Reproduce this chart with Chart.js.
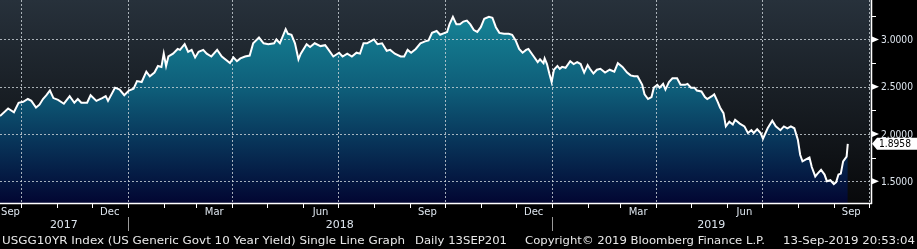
<!DOCTYPE html>
<html>
<head>
<meta charset="utf-8">
<script src="https://cdn.jsdelivr.net/npm/chart.js@4.4.0/dist/chart.umd.min.js"></script>
<style>
  html, body { margin: 0; padding: 0; background: #000; }
  #graphCanvas { display: block; }
</style>
</head>
<body>
<canvas id="graphCanvas" width="917" height="249"></canvas>
<script>
// days since 13-Sep-2017
const dayOffsets = [
    0, 7, 12, 16, 20, 24, 27, 31, 34, 37,
    40, 43, 46, 50, 55, 60, 64, 67, 70, 75,
    78, 83, 88, 91, 93, 99, 103, 107, 111, 115,
    118, 122, 126, 129, 133, 136, 139, 141, 143, 145,
    149, 153, 155, 159, 162, 165, 168, 171, 175, 178,
    182, 187, 191, 198, 201, 204, 207, 211, 215, 218,
    223, 227, 231, 236, 238, 241, 246, 248, 251, 254,
    257, 259, 264, 267, 271, 276, 280, 283, 287, 292,
    295, 299, 303, 307, 310, 313, 316, 319, 322, 325,
    329, 333, 336, 340, 345, 348, 351, 354, 358, 362,
    366, 369, 372, 376, 379, 383, 385, 387, 390, 393,
    396, 399, 402, 405, 408, 411, 414, 417, 421, 424,
    427, 430, 434, 438, 441, 444, 447, 450, 453, 455,
    459, 463, 465, 468, 469, 471, 473, 475, 477, 480,
    482, 484, 487, 491, 494, 497, 500, 503, 506, 508,
    511, 514, 517, 521, 525, 529, 532, 536, 540, 543,
    546, 549, 553, 555, 558, 561, 563, 566, 568, 571,
    573, 576, 579, 583, 586, 590, 592, 595, 598, 600,
    604, 607, 609, 613, 615, 618, 620, 623, 625, 628,
    631, 633, 637, 641, 644, 647, 649, 652, 655, 657,
    661, 665, 668, 672, 675, 678, 681, 684, 687, 688,
    689, 691, 694, 697, 699, 702, 704, 707, 710, 712,
    715, 718, 720, 722, 724, 726, 729, 730
];
const yields = [
    2.19, 2.27, 2.23, 2.33, 2.34, 2.37, 2.35, 2.28, 2.31, 2.37,
    2.41, 2.46, 2.38, 2.36, 2.32, 2.40, 2.33, 2.37, 2.33, 2.33,
    2.41, 2.35, 2.38, 2.40, 2.35, 2.49, 2.47, 2.41, 2.46, 2.48,
    2.56, 2.55, 2.66, 2.61, 2.65, 2.72, 2.71, 2.85, 2.72, 2.82,
    2.85, 2.90, 2.89, 2.95, 2.87, 2.89, 2.81, 2.87, 2.89, 2.85,
    2.82, 2.89, 2.82, 2.75, 2.81, 2.77, 2.80, 2.82, 2.83, 2.96,
    3.02, 2.96, 2.95, 2.96, 3.00, 2.96, 3.11, 3.06, 3.05, 2.96,
    2.79, 2.85, 2.95, 2.92, 2.96, 2.93, 2.94, 2.89, 2.82, 2.86,
    2.82, 2.85, 2.82, 2.86, 2.85, 2.96, 2.96, 2.98, 3.00, 2.95,
    2.96, 2.88, 2.89, 2.85, 2.82, 2.82, 2.89, 2.86, 2.90, 2.96,
    2.98, 2.99, 3.07, 3.09, 3.05, 3.07, 3.08, 3.16, 3.24, 3.16,
    3.16, 3.19, 3.20, 3.16, 3.10, 3.08, 3.13, 3.22, 3.24, 3.23,
    3.13, 3.07, 3.06, 3.06, 3.05, 2.99, 2.90, 2.86, 2.89, 2.90,
    2.83, 2.76, 2.79, 2.75, 2.80, 2.74, 2.64, 2.55, 2.68, 2.72,
    2.69, 2.71, 2.70, 2.77, 2.74, 2.76, 2.74, 2.65, 2.73, 2.69,
    2.64, 2.68, 2.69, 2.65, 2.68, 2.66, 2.75, 2.71, 2.65, 2.62,
    2.61, 2.61, 2.52, 2.42, 2.37, 2.39, 2.49, 2.52, 2.49, 2.53,
    2.47, 2.55, 2.59, 2.59, 2.52, 2.52, 2.53, 2.49, 2.49, 2.46,
    2.45, 2.39, 2.37, 2.40, 2.42, 2.34, 2.28, 2.22, 2.08, 2.13,
    2.10, 2.15, 2.11, 2.08, 2.01, 2.04, 2.01, 2.05, 2.01, 1.95,
    2.06, 2.14, 2.08, 2.04, 2.08, 2.06, 2.08, 2.06, 1.94, 1.86,
    1.78, 1.71, 1.73, 1.75, 1.65, 1.55, 1.58, 1.62, 1.57, 1.50,
    1.51, 1.47, 1.49, 1.57, 1.58, 1.71, 1.76, 1.8958
];
const lastValue = 1.8958;
const yTicks = [1.5, 2.0, 2.5, 3.0];
const yMinorTicks = [1.75, 2.25, 2.75, 3.25];
const monthNames = ['Jan', 'Feb', 'Mar', 'Apr', 'May', 'Jun', 'Jul', 'Aug', 'Sep', 'Oct', 'Nov', 'Dec'];
const labelMonths = [8, 11, 2, 5];          // Sep, Dec, Mar, Jun get a label
const gridMonths = [0, 3, 6, 9];            // quarter starts get a gridline
const years = [2017, 2018, 2019];
const footerParts = [
    { text: 'USGG10YR Index (US Generic Govt 10 Year Yield) Single Line Graph', x: 2, w: 403 },
    { text: 'Daily 13SEP201', x: 415, w: 92 },
    { text: 'Copyright\u00A9 2019 Bloomberg Finance L.P.', x: 525, w: 240 },
    { text: '13-Sep-2019 20:53:04', x: 783, w: 132 }
];

const startUTC = Date.UTC(2017, 8, 13);
const dayOf = (y, m) => (Date.UTC(y, m, 1) - startUTC) / 86400000;
const FONT = '"DejaVu Sans", Verdana, sans-serif';

// text squeezed or stretched to a given width
function fitText(ctx, str, x, y, w) {
    const mw = ctx.measureText(str).width;
    ctx.save();
    ctx.translate(x, y);
    ctx.scale(w / mw, 1);
    ctx.fillText(str, 0, 0);
    ctx.restore();
}

const bbgPlugin = {
    id: 'bbg',
    beforeDraw(chart) {
        const { ctx, chartArea: a } = chart;
        ctx.save();
        ctx.fillStyle = '#000';
        ctx.fillRect(0, 0, chart.width, chart.height);
        const g = ctx.createLinearGradient(0, a.top, 0, a.bottom);
        g.addColorStop(0, '#27313b');
        g.addColorStop(1, '#08090b');
        ctx.fillStyle = g;
        ctx.fillRect(a.left, a.top, a.right - a.left, a.bottom - a.top);
        ctx.restore();
    },
    afterDatasetDraw(chart, args) {
        if (args.index !== 1) return;
        const { ctx, chartArea: a, scales: { x, y } } = chart;
        ctx.save();
        ctx.strokeStyle = 'rgba(205,212,218,0.8)';
        ctx.lineWidth = 1;
        ctx.setLineDash([2, 2]);
        yTicks.forEach(v => {
            const py = Math.round(y.getPixelForValue(v)) + 0.5;
            ctx.beginPath(); ctx.moveTo(a.left, py); ctx.lineTo(a.right, py); ctx.stroke();
        });
        for (let yr = 2017; yr <= 2019; yr++) {
            gridMonths.forEach(m => {
                const d = dayOf(yr, m);
                if (d < x.min || d > x.max) return;
                const px = Math.round(x.getPixelForValue(d)) + 0.5;
                ctx.beginPath(); ctx.moveTo(px, a.top); ctx.lineTo(px, a.bottom); ctx.stroke();
            });
        }
        ctx.restore();
    },
    afterDraw(chart) {
        const { ctx, chartArea: a, scales: { x, y } } = chart;
        ctx.save();
        // axis lines
        ctx.strokeStyle = '#fff';
        ctx.lineWidth = 1.5;
        ctx.beginPath();
        ctx.moveTo(a.left, a.bottom + 0.5); ctx.lineTo(a.right + 1, a.bottom + 0.5);
        ctx.moveTo(a.right + 0.5, a.top); ctx.lineTo(a.right + 0.5, a.bottom + 1);
        ctx.stroke();

        // month ticks and labels
        ctx.lineWidth = 1;
        ctx.font = '10px ' + FONT;
        ctx.textBaseline = 'middle';
        for (let yr = 2017; yr <= 2019; yr++) {
            for (let m = 0; m < 12; m++) {
                const d0 = dayOf(yr, m), d1 = dayOf(yr, m + 1);
                if (d1 < x.min || d0 > x.max) continue;
                if (d0 >= x.min) {
                    const px = Math.round(x.getPixelForValue(d0)) + 0.5;
                    ctx.beginPath(); ctx.moveTo(px, a.bottom); ctx.lineTo(px, a.bottom + 5); ctx.stroke();
                }
                if (labelMonths.includes(m)) {
                    const c = (x.getPixelForValue(Math.max(d0, x.min)) + x.getPixelForValue(Math.min(d1, x.max))) / 2;
                    ctx.fillStyle = '#dde5ee';
                    ctx.textAlign = 'center';
                    ctx.fillText(monthNames[m], c, a.bottom + 9);
                }
            }
        }

        // year labels and separators
        ctx.font = '11px ' + FONT;
        years.forEach(yr => {
            const s = Math.max(dayOf(yr, 0), x.min), e = Math.min(dayOf(yr + 1, 0), x.max);
            const c = (x.getPixelForValue(s) + x.getPixelForValue(e)) / 2;
            ctx.fillStyle = '#dde5ee';
            ctx.textAlign = 'center';
            ctx.fillText(String(yr), c, a.bottom + 22);
            if (dayOf(yr, 0) > x.min) {
                const px = Math.round(x.getPixelForValue(dayOf(yr, 0))) + 0.5;
                ctx.strokeStyle = '#9a9a9a';
                ctx.beginPath(); ctx.moveTo(px, a.bottom + 14); ctx.lineTo(px, a.bottom + 28); ctx.stroke();
            }
        });

        // right axis ticks and labels
        ctx.fillStyle = '#fff';
        ctx.strokeStyle = '#fff';
        yMinorTicks.forEach(v => {
            const py = Math.round(y.getPixelForValue(v)) + 0.5;
            ctx.beginPath(); ctx.moveTo(a.right, py); ctx.lineTo(a.right + 5, py); ctx.stroke();
        });
        ctx.font = '10px ' + FONT;
        ctx.textAlign = 'left';
        yTicks.forEach(v => {
            const py = y.getPixelForValue(v);
            ctx.fillStyle = '#fff';
            ctx.beginPath();
            ctx.moveTo(a.right + 1, py - 3); ctx.lineTo(a.right + 8, py); ctx.lineTo(a.right + 1, py + 3);
            ctx.closePath(); ctx.fill();
            ctx.fillStyle = '#dde5ee';
            fitText(ctx, v.toFixed(4), a.right + 10, py + 1, 32);
        });

        // last value box
        const ly = y.getPixelForValue(lastValue);
        ctx.fillStyle = '#fff';
        ctx.beginPath();
        ctx.moveTo(a.right + 1, ly);
        ctx.lineTo(a.right + 6, ly - 6);
        ctx.lineTo(chart.width, ly - 6);
        ctx.lineTo(chart.width, ly + 6);
        ctx.lineTo(a.right + 6, ly + 6);
        ctx.closePath(); ctx.fill();
        ctx.fillStyle = '#000';
        fitText(ctx, lastValue.toFixed(4), a.right + 8, ly + 1, 32);

        // footer
        ctx.font = '11px ' + FONT;
        ctx.fillStyle = '#e8e8e8';
        footerParts.forEach(p => fitText(ctx, p.text, p.x, 241, p.w));
        ctx.restore();
    }
};

function fillGradient(c) {
    const a = c.chart.chartArea;
    if (!a) return '#0c4c6a';
    const g = c.chart.ctx.createLinearGradient(0, a.top, 0, a.bottom);
    g.addColorStop(0, '#178c9c');
    g.addColorStop(0.45, '#0e5c78');
    g.addColorStop(0.7, '#083459');
    g.addColorStop(1, '#020632');
    return g;
}

const points = dayOffsets.map((d, i) => ({ x: d, y: yields[i] }));

new Chart(document.getElementById('graphCanvas').getContext('2d'), {
    type: 'line',
    data: {
        datasets: [
            { data: points, borderColor: '#ffffff', borderWidth: 2, fill: false, pointRadius: 0, tension: 0 },
            { data: points, borderWidth: 0, borderColor: 'transparent', backgroundColor: fillGradient, fill: 'start', pointRadius: 0, tension: 0 }
        ]
    },
    options: {
        responsive: false,
        animation: false,
        layout: { padding: 0 },
        plugins: { legend: { display: false }, tooltip: { enabled: false } },
        scales: {
            x: {
                type: 'linear', min: 0, max: 750,
                grid: { display: false }, border: { display: false }, ticks: { display: false },
                afterFit: s => { s.height = 46; }
            },
            y: {
                type: 'linear', position: 'right', min: 1.269, max: 3.418,
                grid: { display: false }, border: { display: false }, ticks: { display: false },
                afterFit: s => { s.width = 46; }
            }
        }
    },
    plugins: [bbgPlugin]
});
</script>
</body>
</html>
